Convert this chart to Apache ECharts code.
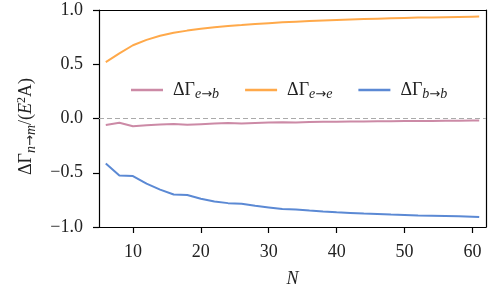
<!DOCTYPE html>
<html>
<head>
<meta charset="utf-8">
<script src="https://cdn.jsdelivr.net/npm/echarts@6/dist/echarts.min.js"></script>
<style>
  html, body { margin: 0; padding: 0; background: #fff; }
  #chart { width: 503px; height: 286px; }
</style>
</head>
<body>
<div id="chart"></div>
<script>
// N 取值
const nValues = [6, 8, 10, 12, 14, 16, 18, 20, 22, 24, 26, 28, 30, 32, 34, 36, 38, 40,
  42, 44, 46, 48, 50, 52, 54, 56, 58, 60, 61]

// ΔΓ e→b
const gammaEB = [-0.060, -0.040, -0.072, -0.062, -0.056, -0.050, -0.058, -0.052, -0.047,
  -0.042, -0.047, -0.042, -0.038, -0.035, -0.036, -0.033, -0.031, -0.029, -0.028, -0.027,
  -0.026, -0.025, -0.024, -0.023, -0.022, -0.021, -0.020, -0.019, -0.019]

// ΔΓ e→e
const gammaEE = [0.520, 0.600, 0.675, 0.725, 0.762, 0.790, 0.810, 0.827, 0.842, 0.853,
  0.862, 0.872, 0.879, 0.886, 0.892, 0.898, 0.903, 0.908, 0.912, 0.916, 0.920, 0.924,
  0.927, 0.930, 0.932, 0.934, 0.936, 0.938, 0.939]

// ΔΓ b→b
const gammaBB = [-0.415, -0.525, -0.530, -0.600, -0.655, -0.700, -0.705, -0.740, -0.765,
  -0.780, -0.785, -0.805, -0.820, -0.835, -0.838, -0.848, -0.857, -0.865, -0.870, -0.876,
  -0.880, -0.885, -0.889, -0.893, -0.896, -0.899, -0.902, -0.905, -0.908]

const xTicks = [10, 20, 30, 40, 50, 60]

const serif = '"Liberation Serif", "DejaVu Serif", serif'
const ink = '#222'

const legendLabels = {
  eb: '{g|ΔΓ}{si|e}{sa|→}{si|b}',
  ee: '{g|ΔΓ}{si|e}{sa|→}{si|e}',
  bb: '{g|ΔΓ}{si|b}{sa|→}{si|b}'
}

// 上下标样式
const richText = {
  g: { fontFamily: serif, fontSize: 18, color: ink },
  gi: { fontFamily: serif, fontSize: 18, fontStyle: 'italic', color: ink },
  si: { fontFamily: serif, fontSize: 14, fontStyle: 'italic', color: ink, padding: [9, 0, 0, 0] },
  sa: { fontFamily: '"DejaVu Sans", sans-serif', fontSize: 13, color: ink, padding: [9, 0, 0, 0] },
  sup: { fontFamily: serif, fontSize: 12, color: ink, padding: [0, 0, 9, 0] }
}

const chart = echarts.init(document.getElementById('chart'))

const toPoints = (vals) => nValues.map((n, i) => [n, vals[i]])

const axisLine = { show: true, onZero: false, lineStyle: { color: '#000', width: 1.2 } }
const axisTick = { show: true, length: 6, lineStyle: { color: '#000', width: 1.2 } }
// 上、右两条边框
const frameAxis = {
  type: 'value', axisLine, axisTick: { show: false }, axisLabel: { show: false },
  splitLine: { show: false }
}

const option = {
  animation: false,
  grid: { left: 99, right: 17, top: 10, bottom: 59, outerBoundsMode: 'none', containLabel: false },
  legend: {
    left: 126, top: 76,
    icon: 'rect', itemWidth: 32, itemHeight: 2.5, itemGap: 26,
    data: ['eb', 'ee', 'bb'],
    formatter: (name) => legendLabels[name],
    textStyle: { padding: [0, 0, 0, 5], rich: richText }
  },
  xAxis: [
    {
      type: 'value', min: 5, max: 62,
      name: 'N', nameLocation: 'middle', nameGap: 43,
      nameTextStyle: { fontFamily: serif, fontSize: 18, fontStyle: 'italic', color: ink },
      splitLine: { show: false },
      axisLine,
      axisTick: { ...axisTick, customValues: xTicks },
      axisLabel: { customValues: xTicks, fontFamily: serif, fontSize: 18, color: ink, margin: 16 }
    },
    { ...frameAxis, position: 'top', min: 5, max: 62 }
  ],
  yAxis: [
    {
      type: 'value', min: -1, max: 1, interval: 0.5,
      name: '{g|ΔΓ}{si|n}{sa|→}{si|m}{g|/(}{gi|E}{sup|2}{g|A)}',
      nameLocation: 'middle', nameGap: 61, nameRotate: 90,
      nameTextStyle: { rich: richText, padding: [0, 16, 0, 0] },
      splitLine: { show: false },
      axisLine,
      axisTick,
      axisLabel: {
        fontFamily: serif, fontSize: 18, color: ink, margin: 16,
        formatter: (v) => (v < 0 ? '\u2212' : '') + Math.abs(v).toFixed(1)
      }
    },
    { ...frameAxis, position: 'right', min: -1, max: 1 }
  ],
  series: [
    {
      name: 'eb', type: 'line', showSymbol: false, data: toPoints(gammaEB),
      lineStyle: { color: '#cc8aa6', width: 2 }, itemStyle: { color: '#cc8aa6' },
      markLine: {
        silent: true, symbol: 'none', label: { show: false },
        lineStyle: { color: '#aaaaaa', type: [5, 3], width: 1.2 },
        data: [{ yAxis: 0 }]
      }
    },
    {
      name: 'ee', type: 'line', showSymbol: false, data: toPoints(gammaEE),
      lineStyle: { color: '#ffa94a', width: 2 }, itemStyle: { color: '#ffa94a' }
    },
    {
      name: 'bb', type: 'line', showSymbol: false, data: toPoints(gammaBB),
      lineStyle: { color: '#5b89d4', width: 2 }, itemStyle: { color: '#5b89d4' }
    }
  ]
}

chart.setOption(option)
</script>
</body>
</html>
